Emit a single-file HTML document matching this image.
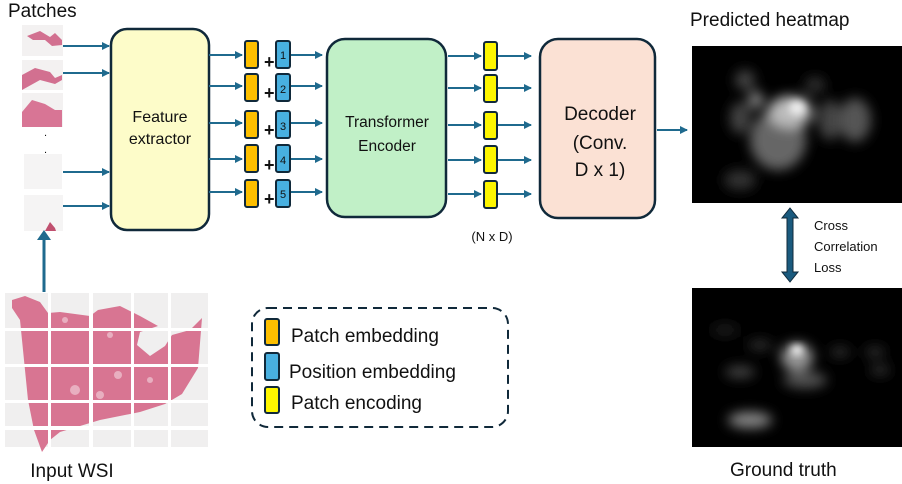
<!DOCTYPE html>
<html><head><meta charset="utf-8"><style>
html,body{margin:0;padding:0;background:#fff;}
svg{display:block;font-family:"Liberation Sans",sans-serif;}
</style></head><body>
<svg width="902" height="484" viewBox="0 0 902 484" xmlns="http://www.w3.org/2000/svg">
<defs>
<marker id="ar" markerWidth="8" markerHeight="8" refX="7" refY="4" orient="auto" markerUnits="userSpaceOnUse">
<path d="M0,0 L8,4 L0,8 Z" fill="#1f6a8e"/></marker>
<filter id="b6" x="-50%" y="-50%" width="200%" height="200%"><feGaussianBlur stdDeviation="6"/></filter>
<filter id="b4" x="-50%" y="-50%" width="200%" height="200%"><feGaussianBlur stdDeviation="4"/></filter>
<clipPath id="h1"><rect x="692" y="46" width="210" height="157"/></clipPath>
<clipPath id="h2"><rect x="692" y="288" width="210" height="159"/></clipPath>
</defs>

<text x="8" y="17" font-size="19" fill="#111">Patches</text>
<rect x="22" y="25" width="41" height="31" fill="#f3f1f1"/>
<path d="M27,36 L40,31 L50,37 L55,33 L62,40 L62,45 L52,46 L45,40 L33,40 Z" fill="#d27090"/>
<rect x="22" y="60" width="41" height="30" fill="#f3f1f1"/>
<path d="M22,75 L35,68 L50,72 L55,78 L62,75 L62,80 L55,84 L40,80 L22,90 Z" fill="#d27090"/>
<rect x="22" y="93" width="41" height="34" fill="#f3f1f1"/>
<path d="M22,112 L32,100 L45,104 L55,110 L62,110 L62,127 L22,127 Z" fill="#d87595"/>
<text x="44" y="136" font-size="11" fill="#111">.</text>
<text x="44" y="153" font-size="11" fill="#111">.</text>
<rect x="24" y="154" width="38" height="35" fill="#f5f4f4"/>
<rect x="24" y="195" width="39" height="36" fill="#f5f4f4"/>
<path d="M45,231 L50,222 L55,228 L56,231 Z" fill="#c0506f"/>
<g stroke="#1f6a8e" stroke-width="2" fill="none" marker-end="url(#ar)">
<line x1="63" y1="46" x2="109" y2="46"/>
<line x1="63" y1="73" x2="109" y2="73"/>
<line x1="63" y1="172" x2="109" y2="172"/>
<line x1="63" y1="206" x2="109" y2="206"/>
</g>
<rect x="111" y="29" width="98" height="201" rx="16" fill="#fdfcc9" stroke="#10293a" stroke-width="2.5"/>
<text x="160" y="122" font-size="16" text-anchor="middle" fill="#111">Feature</text>
<text x="160" y="144" font-size="16" text-anchor="middle" fill="#111">extractor</text>

<g font-size="11">
<g stroke="#1f6a8e" stroke-width="2" fill="none" marker-end="url(#ar)">
<line x1="209" y1="55" x2="242" y2="55"/><line x1="290" y1="55" x2="322" y2="55"/>
<line x1="209" y1="86" x2="242" y2="86"/><line x1="290" y1="86" x2="322" y2="86"/>
<line x1="209" y1="123" x2="242" y2="123"/><line x1="290" y1="123" x2="322" y2="123"/>
<line x1="209" y1="159" x2="242" y2="159"/><line x1="290" y1="159" x2="322" y2="159"/>
<line x1="209" y1="192" x2="242" y2="192"/><line x1="290" y1="192" x2="322" y2="192"/>
</g>
<g stroke="#10293a" stroke-width="2">
<rect x="245" y="41" width="13" height="27" rx="2" fill="#fcbf00"/>
<rect x="245" y="74" width="13" height="27" rx="2" fill="#fcbf00"/>
<rect x="245" y="111" width="13" height="27" rx="2" fill="#fcbf00"/>
<rect x="245" y="145" width="13" height="27" rx="2" fill="#fcbf00"/>
<rect x="245" y="180" width="13" height="27" rx="2" fill="#fcbf00"/>
<rect x="276" y="41" width="14" height="27" rx="2" fill="#48b0e0"/>
<rect x="276" y="74" width="14" height="27" rx="2" fill="#48b0e0"/>
<rect x="276" y="111" width="14" height="27" rx="2" fill="#48b0e0"/>
<rect x="276" y="145" width="14" height="27" rx="2" fill="#48b0e0"/>
<rect x="276" y="180" width="14" height="27" rx="2" fill="#48b0e0"/>
</g>
<g font-size="18" font-weight="bold" fill="#111">
<text x="264" y="68">+</text><text x="264" y="99">+</text><text x="264" y="136">+</text><text x="264" y="171">+</text><text x="264" y="205">+</text>
</g>
<g fill="#111" text-anchor="middle">
<text x="283" y="59">1</text><text x="283" y="93">2</text><text x="283" y="130">3</text><text x="283" y="164">4</text><text x="283" y="198">5</text>
</g>
</g>

<rect x="327" y="39" width="119" height="178" rx="18" fill="#c1f0c7" stroke="#10293a" stroke-width="2.5"/>
<text x="387" y="127" font-size="15.5" text-anchor="middle" fill="#111">Transformer</text>
<text x="387" y="151" font-size="15.5" text-anchor="middle" fill="#111">Encoder</text>

<g stroke="#1f6a8e" stroke-width="2" fill="none" marker-end="url(#ar)">
<line x1="448" y1="56" x2="481" y2="56"/><line x1="498" y1="56" x2="531" y2="56"/>
<line x1="448" y1="88" x2="481" y2="88"/><line x1="498" y1="88" x2="531" y2="88"/>
<line x1="448" y1="125" x2="481" y2="125"/><line x1="498" y1="125" x2="531" y2="125"/>
<line x1="448" y1="160" x2="481" y2="160"/><line x1="498" y1="160" x2="531" y2="160"/>
<line x1="448" y1="194" x2="481" y2="194"/><line x1="498" y1="194" x2="531" y2="194"/>
</g>
<g stroke="#10293a" stroke-width="2" fill="#fdf600">
<rect x="484" y="42" width="13" height="28" rx="2"/>
<rect x="484" y="75" width="13" height="27" rx="2"/>
<rect x="484" y="112" width="13" height="27" rx="2"/>
<rect x="484" y="146" width="13" height="27" rx="2"/>
<rect x="484" y="181" width="13" height="27" rx="2"/>
</g>
<text x="492" y="241" font-size="13" text-anchor="middle" fill="#111">(N x D)</text>

<rect x="540" y="39" width="115" height="179" rx="18" fill="#fbe1d4" stroke="#10293a" stroke-width="2.5"/>
<text x="600" y="120" font-size="19" text-anchor="middle" fill="#111">Decoder</text>
<text x="600" y="149" font-size="19" text-anchor="middle" fill="#111">(Conv.</text>
<text x="600" y="176" font-size="19" text-anchor="middle" fill="#111">D x 1)</text>
<line x1="657" y1="130" x2="687" y2="130" stroke="#1f6a8e" stroke-width="2" marker-end="url(#ar)"/>

<text x="690" y="26" font-size="19" fill="#111">Predicted heatmap</text>
<rect x="692" y="46" width="210" height="157" fill="#000"/>
<g clip-path="url(#h1)">
<g filter="url(#b6)">
<ellipse cx="778" cy="140" rx="28" ry="30" fill="#666"/>
<ellipse cx="790" cy="112" rx="22" ry="16" fill="#bbb"/>
<ellipse cx="855" cy="120" rx="16" ry="22" fill="#555"/>
<ellipse cx="830" cy="120" rx="12" ry="20" fill="#444"/>
<ellipse cx="740" cy="118" rx="10" ry="16" fill="#444"/>
<ellipse cx="756" cy="100" rx="7" ry="8" fill="#999"/>
<ellipse cx="745" cy="80" rx="10" ry="10" fill="#444"/>
<ellipse cx="815" cy="85" rx="10" ry="8" fill="#333"/>
<ellipse cx="740" cy="180" rx="16" ry="10" fill="#333"/>
</g>
<ellipse cx="797" cy="108" rx="8" ry="7" fill="#eee" filter="url(#b4)"/>
</g>
<text x="730" y="476" font-size="19" fill="#111">Ground truth</text>
<rect x="692" y="288" width="210" height="159" fill="#000"/>
<g clip-path="url(#h2)" filter="url(#b6)">
<ellipse cx="797" cy="357" rx="16" ry="14" fill="#999"/>
<ellipse cx="805" cy="380" rx="22" ry="8" fill="#555"/>
<ellipse cx="740" cy="372" rx="15" ry="6" fill="#444"/>
<ellipse cx="760" cy="345" rx="12" ry="5" fill="#333"/>
<ellipse cx="840" cy="352" rx="10" ry="5" fill="#333"/>
<ellipse cx="875" cy="352" rx="10" ry="5" fill="#333"/>
<ellipse cx="880" cy="370" rx="10" ry="5" fill="#333"/>
<ellipse cx="750" cy="420" rx="22" ry="8" fill="#888"/>
<ellipse cx="725" cy="330" rx="14" ry="5" fill="#222"/>
</g>
<ellipse cx="797" cy="350" rx="6" ry="5" fill="#fff" filter="url(#b4)"/>

<path d="M790,208 L798,218 L793,218 L793,272 L798,272 L790,282 L782,272 L787,272 L787,218 L782,218 Z" fill="#1a5a7e" stroke="#10293a" stroke-width="1"/>
<g font-size="13" fill="#111">
<text x="814" y="230">Cross</text>
<text x="814" y="251">Correlation</text>
<text x="814" y="272">Loss</text>
</g>

<line x1="44" y1="292" x2="44" y2="238" stroke="#1f6a8e" stroke-width="3"/>
<path d="M37,240 L44,230 L51,240 Z" fill="#1f6a8e"/>
<rect x="5" y="293" width="203" height="154" fill="#f0efef"/>
<path d="M12,300 L25,296 L40,302 L48,313 L60,312 L90,316 L98,310 L120,306 L140,316 L158,326 L140,332 L137,345 L150,356 L165,346 L172,335 L190,330 L202,318 L198,368 L182,394 L165,404 L140,412 L100,420 L60,432 L50,440 L42,452 L34,430 L28,400 L24,360 L20,320 L12,308 Z" fill="#d87592"/>
<g fill="#f0c8d4" opacity="0.7">
<circle cx="110" cy="335" r="3"/><circle cx="118" cy="375" r="4"/><circle cx="75" cy="390" r="5"/><circle cx="150" cy="380" r="3"/><circle cx="65" cy="320" r="3"/><circle cx="100" cy="395" r="4"/>
</g>
<g fill="#fff">
<rect x="48" y="293" width="3" height="154"/><rect x="89" y="293" width="4" height="154"/>
<rect x="131" y="293" width="3" height="154"/><rect x="168" y="293" width="3" height="154"/>
<rect x="5" y="328" width="203" height="3"/><rect x="5" y="364" width="203" height="3"/>
<rect x="5" y="400" width="203" height="3"/><rect x="5" y="426" width="203" height="4"/>
</g>
<text x="72" y="477" font-size="19" text-anchor="middle" fill="#111">Input WSI</text>

<rect x="252" y="308" width="256" height="119" rx="16" fill="none" stroke="#10293a" stroke-width="2" stroke-dasharray="9,6"/>
<g stroke="#10293a" stroke-width="2">
<rect x="265" y="319" width="14" height="26" rx="2" fill="#fcbf00"/>
<rect x="265" y="353" width="14" height="27" rx="2" fill="#48b0e0"/>
<rect x="265" y="387" width="14" height="26" rx="2" fill="#fdf600"/>
</g>
<g font-size="19" fill="#111">
<text x="291" y="342">Patch embedding</text>
<text x="289" y="378">Position embedding</text>
<text x="291" y="409">Patch encoding</text>
</g>
</svg>
</body></html>
